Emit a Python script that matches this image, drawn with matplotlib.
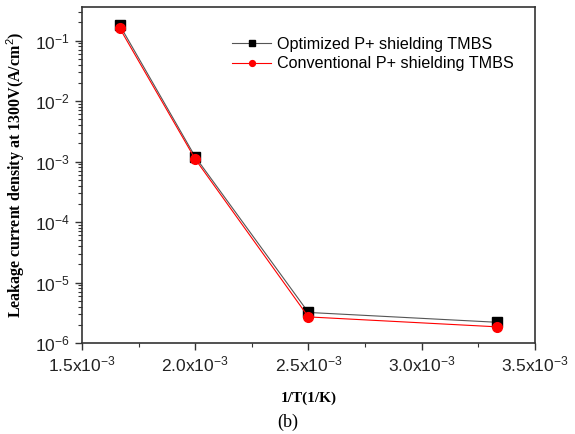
import matplotlib
matplotlib.use("Agg")
import matplotlib.pyplot as plt
from matplotlib.ticker import FixedLocator, LogLocator, NullFormatter

x_vals = [1/600, 1/500, 1/400, 1/300]
optimized = [0.18, 1.2e-3, 3.2e-6, 2.2e-6]
conventional = [0.16, 1.1e-3, 2.7e-6, 1.85e-6]
x_ticks = [1.5e-3, 2.0e-3, 2.5e-3, 3.0e-3, 3.5e-3]
x_tick_labels = [r"1.5x10$^{-3}$", r"2.0x10$^{-3}$", r"2.5x10$^{-3}$", r"3.0x10$^{-3}$", r"3.5x10$^{-3}$"]
y_ticks = [1e-6, 1e-5, 1e-4, 1e-3, 1e-2, 1e-1]
y_tick_labels = [r"10$^{-6}$", r"10$^{-5}$", r"10$^{-4}$", r"10$^{-3}$", r"10$^{-2}$", r"10$^{-1}$"]

plt.rcParams['mathtext.fontset'] = 'custom'
plt.rcParams['mathtext.rm'] = 'Liberation Sans'
plt.rcParams['mathtext.it'] = 'Liberation Sans'

fig = plt.figure(figsize=(5.75, 4.34), dpi=100)
ax = fig.add_axes([0.1426, 0.2097, 0.930 - 0.1426, 0.984 - 0.2097])

ax.plot(x_vals, optimized, color='#555555', lw=0.8, marker='s', ms=6.5,
        mfc='black', mec='black', label='Optimized P+ shielding TMBS')
ax.plot(x_vals, conventional, color='red', lw=0.8, marker='o', ms=7,
        mfc='red', mec='red', label='Conventional P+ shielding TMBS')

ax.set_yscale('log')
ax.set_xlim(1.5e-3, 3.5e-3)
ax.set_ylim(1e-6, 0.36)
ax.set_xticks(x_ticks)
ax.set_xticklabels(x_tick_labels, fontfamily='Liberation Sans', fontsize=12.5, color='#222222')
ax.xaxis.set_minor_locator(FixedLocator([1.75e-3, 2.25e-3, 2.75e-3, 3.25e-3]))
ax.set_yticks(y_ticks)
ax.set_yticklabels(y_tick_labels, fontfamily='Liberation Sans', fontsize=12.5, color='#222222')
ax.yaxis.set_minor_locator(LogLocator(base=10, subs=range(2, 10)))
ax.yaxis.set_minor_formatter(NullFormatter())
ax.tick_params(which='major', direction='out', length=5, width=1, color='#333333')
ax.tick_params(which='minor', direction='out', length=3, width=0.8, color='#333333')
for s in ax.spines.values():
    s.set_linewidth(1.2)
    s.set_color('#333333')

ax.set_xlabel('1/T(1/K)', fontfamily='Liberation Serif', fontweight='bold', fontsize=11, labelpad=12)
ax.set_ylabel(r'Leakage current density at 1300V(A/cm$^{2}$)', fontfamily='Liberation Serif',
              fontweight='bold', fontsize=11.5, labelpad=6)

leg = ax.legend(loc='upper left', bbox_to_anchor=(0.30, 0.955), frameon=False,
                prop={'family': 'Liberation Sans', 'size': 11.6}, handlelength=2.4,
                handletextpad=0.35, labelspacing=0.3, markerscale=0.6)

fig.text(0.5, 0.028, '(b)', ha='center', va='center', fontfamily='Liberation Serif', fontsize=13)

fig.savefig('out.png', dpi=100)
